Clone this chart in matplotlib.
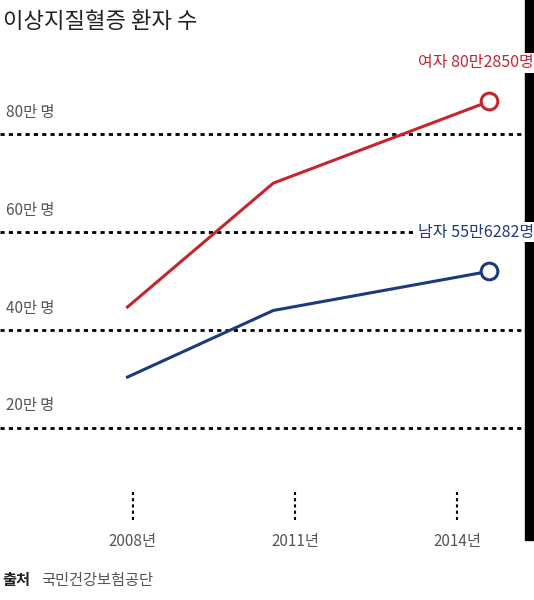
import matplotlib
matplotlib.use('Agg')
import matplotlib.pyplot as plt
from matplotlib.patches import Rectangle

plt.rcParams['font.family'] = ['Noto Sans CJK KR', 'DejaVu Sans']

# 데이터 (그림에서 읽은 값, 단위: 만 명)
years = [2007.9, 2010.6, 2014.6]      # 점의 가로 위치
women = [44.7, 70.0, 86.7]
men = [30.4, 44.0, 52.0]
tick_years = [2008, 2011, 2014]
tick_labels = ['2008년', '2011년', '2014년']
grid_vals = [20, 40, 60, 80]
grid_labels = ['20만 명', '40만 명', '60만 명', '80만 명']

RED = '#c4262e'
BLUE = '#1d3a7c'
GRAY = '#555555'

fig = plt.figure(figsize=(5.34, 6), dpi=100)

# 오른쪽 검은 띠 (텍스트 뒤)
fig.patches.append(Rectangle((525 / 534, 60 / 600), 9 / 534, 540 / 600,
                             transform=fig.transFigure, color='black', zorder=0))

ax = fig.add_axes([0, 80 / 600, 525 / 534, 450 / 600])
ax.set_xlim(2005.54, 2015.26)
ax.set_ylim(1.22, 93.1)
ax.axis('off')

for v, lab in zip(grid_vals, grid_labels):
    ax.axhline(v, color='black', lw=2, ls=(0, (1.5, 1.5)), zorder=1)
    ax.text(2005.65, v + 4.5, lab, color=GRAY, fontsize=11, va='center', ha='left')

# 아래쪽 눈금 막대
for t, lab in zip(tick_years, tick_labels):
    ax.plot([t, t], [1.3, 7.0], color='black', lw=1.5, ls=(0, (1.5, 1.5)))
    ax.text(t, -3.2, lab, color=GRAY, fontsize=11,
            ha='center', va='center', clip_on=False)

ax.plot(years, women, color=RED, lw=2.2, zorder=3)
ax.plot(years, men, color=BLUE, lw=2.2, zorder=3)
ax.plot(years[-1], women[-1], 'o', ms=12, mfc='white', mec=RED, mew=2.2, zorder=4)
ax.plot(years[-1], men[-1], 'o', ms=12, mfc='white', mec=BLUE, mew=2.2, zorder=4)

box = dict(facecolor='white', edgecolor='none', pad=1)
fig.text(1.0, 1 - 63 / 600, '여자 80만2850명', color=RED, fontsize=11.5, ha='right',
         va='center', bbox=box, zorder=5)
fig.text(1.0, 1 - 232 / 600, '남자 55만6282명', color=BLUE, fontsize=11.5, ha='right',
         va='center', bbox=box, zorder=5)

fig.text(0.005, 1 - 22 / 600, '이상지질혈증 환자 수', fontsize=16, fontweight='medium',
         color='#222222', va='center', ha='left')
fig.text(0.005, 1 - 580 / 600, '출처', fontsize=11, fontweight='bold', color='#222222',
         va='center', ha='left')
fig.text(0.078, 1 - 580 / 600, '국민건강보험공단', fontsize=11, color=GRAY,
         va='center', ha='left')

fig.savefig('out.png', dpi=100)
